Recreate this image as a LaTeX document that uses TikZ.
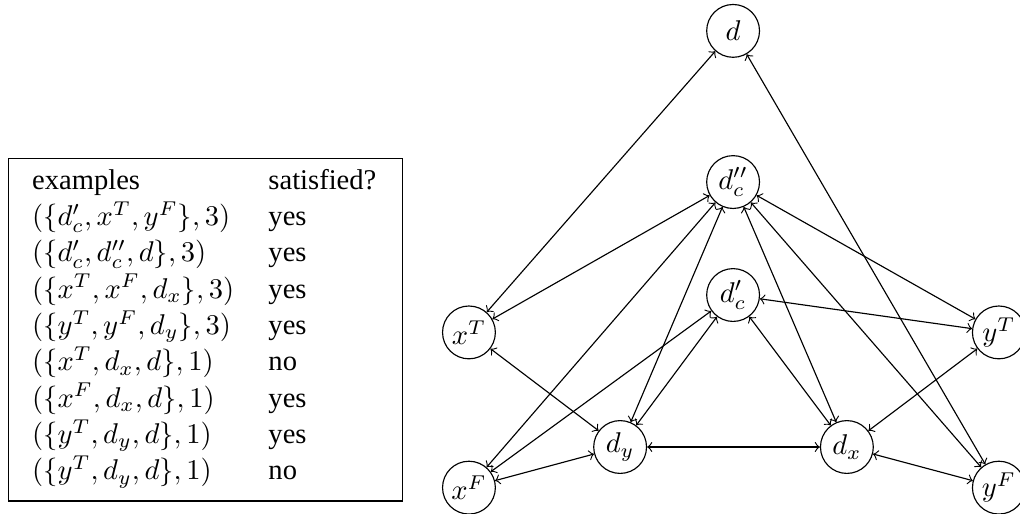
\documentclass[tikz,border=0pt]{standalone}
\usepackage{fontspec}
\setmainfont{Liberation Serif}

\begin{document}
\begin{tikzpicture}[
    var/.style={circle, draw, minimum size=0.65cm, inner sep=0pt},
    link/.style={<->}
]
    \useasboundingbox (0,0) rectangle (12.55,6.32);

    % --- Tabelle ---
    % Rahmen
    \node[draw, minimum width=4.85cm, minimum height=4.21cm] (box) at (2.53,2.26) {};
    % Beispiele und Ergebnis
    \node[anchor=north west, inner sep=0pt] (examples) at ([xshift=0.08cm, yshift=-0.06cm]box.north west) {%
        \renewcommand{\arraystretch}{1.06}%
        \begin{tabular}{ll}
            examples & satisfied?\\
            $(\{d'_c, x^T, y^F\}, 3)$ & yes\\
            $(\{d'_c, d''_c, d\}, 3)$ & yes\\
            $(\{x^T, x^F, d_x\}, 3)$ & yes\\
            $(\{y^T, y^F, d_y\}, 3)$ & yes\\
            $(\{x^T, d_x, d\}, 1)$ & no\\
            $(\{x^F, d_x, d\}, 1)$ & yes\\
            $(\{y^T, d_y, d\}, 1)$ & yes\\
            $(\{y^T, d_y, d\}, 1)$ & no
        \end{tabular}};

    % --- Knoten ---
    \node[var] (d) at (9.02,5.94) {$d$};
    \node[var] (dcc) at (9.02,4.08) {$d''_c$};
    \node[var] (dc) at (9.02,2.69) {$d'_c$};
    \node[var] (xT) at (5.77,2.23) {$x^T$};
    \node[var] (yT) at (12.29,2.23) {$y^T$};
    \node[var] (dy) at (7.63,0.82) {$d_y$};
    \node[var] (dx) at (10.42,0.82) {$d_x$};
    \node[var] (xF) at (5.77,0.32) {$x^F$};
    \node[var] (yF) at (12.29,0.32) {$y^F$};

    % --- Kanten ---
    % zu d
    \draw[link] (xT) -- (d);
    \draw[link] (yF) -- (d);
    % zu d''_c
    \draw[link] (xT) -- (dcc);
    \draw[link] (xF) -- (dcc);
    \draw[link] (dy) -- (dcc);
    \draw[link] (dx) -- (dcc);
    \draw[link] (yF) -- (dcc);
    \draw[link] (yT) -- (dcc);
    % zu d'_c
    \draw[link] (xF) -- (dc);
    \draw[link] (dy) -- (dc);
    \draw[link] (dx) -- (dc);
    \draw[link] (yT) -- (dc);
    % unten
    \draw[link] (xT) -- (dy);
    \draw[link] (xF) -- (dy);
    \draw[link] (dy) -- (dx);
    \draw[link] (yT) -- (dx);
    \draw[link] (yF) -- (dx);
\end{tikzpicture}
\end{document}
